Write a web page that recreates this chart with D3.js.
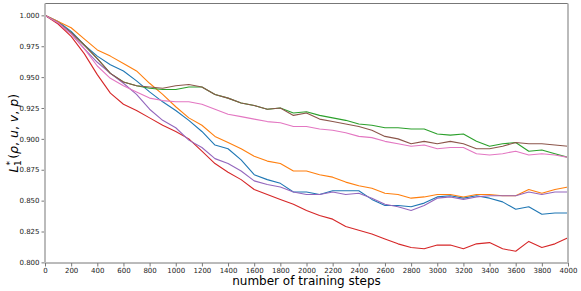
<!DOCTYPE html>
<html>
<head>
<meta charset="utf-8">
<script src="https://cdn.jsdelivr.net/npm/d3@7"></script>
<style>
  body { margin: 0; background: #fff; }
  svg { display: block; font-family: "DejaVu Sans", sans-serif; }
</style>
</head>
<body>
<script>
// training steps, one value every 100 steps
var steps = d3.range(0, 4001, 100);
var xTicks = d3.range(0, 4001, 200);
var yTicks = [0.800, 0.825, 0.850, 0.875, 0.900, 0.925, 0.950, 0.975, 1.000];

var blue = [1.000, 0.995, 0.987, 0.976, 0.967, 0.960, 0.955, 0.947, 0.938, 0.930, 0.923, 0.915, 0.906, 0.895, 0.892, 0.883, 0.871, 0.867, 0.864, 0.857, 0.857, 0.855, 0.858, 0.858, 0.858, 0.851, 0.846, 0.846, 0.845, 0.848, 0.853, 0.854, 0.852, 0.854, 0.852, 0.849, 0.843, 0.845, 0.839, 0.840, 0.840];
var orange = [1.000, 0.995, 0.990, 0.981, 0.972, 0.967, 0.961, 0.955, 0.945, 0.936, 0.926, 0.917, 0.911, 0.902, 0.897, 0.892, 0.886, 0.882, 0.880, 0.874, 0.874, 0.871, 0.869, 0.865, 0.862, 0.860, 0.856, 0.855, 0.852, 0.853, 0.855, 0.855, 0.853, 0.855, 0.855, 0.854, 0.854, 0.859, 0.856, 0.859, 0.861];
var green = [1.000, 0.994, 0.986, 0.976, 0.965, 0.953, 0.946, 0.943, 0.941, 0.940, 0.940, 0.942, 0.942, 0.936, 0.933, 0.929, 0.927, 0.924, 0.925, 0.921, 0.922, 0.919, 0.917, 0.915, 0.912, 0.911, 0.909, 0.909, 0.908, 0.908, 0.904, 0.903, 0.904, 0.898, 0.894, 0.896, 0.897, 0.890, 0.891, 0.888, 0.885];
var red = [1.000, 0.993, 0.983, 0.969, 0.952, 0.937, 0.928, 0.923, 0.917, 0.911, 0.906, 0.900, 0.890, 0.880, 0.873, 0.867, 0.859, 0.855, 0.851, 0.847, 0.842, 0.838, 0.835, 0.829, 0.826, 0.823, 0.819, 0.815, 0.812, 0.811, 0.814, 0.814, 0.811, 0.815, 0.816, 0.811, 0.809, 0.817, 0.812, 0.815, 0.820];
var purple = [1.000, 0.994, 0.985, 0.973, 0.962, 0.953, 0.945, 0.936, 0.924, 0.915, 0.909, 0.899, 0.893, 0.884, 0.880, 0.874, 0.866, 0.863, 0.861, 0.857, 0.855, 0.855, 0.857, 0.855, 0.856, 0.852, 0.847, 0.845, 0.842, 0.846, 0.852, 0.853, 0.851, 0.853, 0.854, 0.854, 0.854, 0.857, 0.855, 0.857, 0.857];
var brown = [1.000, 0.994, 0.986, 0.976, 0.965, 0.953, 0.946, 0.943, 0.942, 0.941, 0.943, 0.944, 0.942, 0.936, 0.933, 0.929, 0.927, 0.924, 0.925, 0.919, 0.921, 0.916, 0.914, 0.912, 0.910, 0.907, 0.902, 0.900, 0.896, 0.898, 0.896, 0.898, 0.896, 0.892, 0.892, 0.894, 0.897, 0.896, 0.896, 0.895, 0.894];
var pink = [1.000, 0.994, 0.985, 0.973, 0.959, 0.949, 0.943, 0.938, 0.933, 0.931, 0.930, 0.930, 0.928, 0.924, 0.920, 0.918, 0.916, 0.914, 0.913, 0.910, 0.910, 0.908, 0.907, 0.905, 0.902, 0.901, 0.898, 0.896, 0.894, 0.895, 0.892, 0.893, 0.893, 0.888, 0.887, 0.888, 0.890, 0.887, 0.888, 0.887, 0.885];

var series = [
  { values: blue, color: "#1f77b4" },
  { values: orange, color: "#ff7f0e" },
  { values: green, color: "#2ca02c" },
  { values: red, color: "#d62728" },
  { values: purple, color: "#9467bd" },
  { values: brown, color: "#8c564b" },
  { values: pink, color: "#e377c2" }
];

var svgWidth = 581;
var svgHeight = 291;
var margin = { top: 3.5, right: 13, bottom: 28, left: 45 };
var width = svgWidth - margin.left - margin.right;
var height = svgHeight - margin.top - margin.bottom;

var svg = d3.select("body").append("svg")
  .attr("width", svgWidth)
  .attr("height", svgHeight);

var chart = svg.append("g")
  .attr("transform", `translate(${margin.left}, ${margin.top})`);

var x = d3.scaleLinear().domain([0, 4000]).range([0, width]);
var y = d3.scaleLinear().domain([0.7995, 1.0096]).range([height, 0]);

// lines
var line = d3.line()
  .x((d, i) => x(steps[i]))
  .y(d => y(d));

chart.selectAll(".series")
  .data(series)
  .enter()
  .append("path")
  .attr("class", "series")
  .attr("d", d => line(d.values))
  .attr("fill", "none")
  .attr("stroke", d => d.color)
  .attr("stroke-width", 1.1)
  .attr("stroke-linejoin", "round");

// axes
var xAxis = chart.append("g")
  .attr("transform", `translate(0, ${height})`)
  .call(d3.axisBottom(x).tickValues(xTicks).tickFormat(d3.format("d")).tickSize(3.5).tickPadding(2).tickSizeOuter(0));

var yAxis = chart.append("g")
  .call(d3.axisLeft(y).tickValues(yTicks).tickFormat(d3.format(".3f")).tickSize(3.5).tickPadding(2).tickSizeOuter(0));

[xAxis, yAxis].forEach(function(a) {
  a.select(".domain").remove();
  a.selectAll(".tick line").attr("stroke", "#555").attr("stroke-width", 0.8);
  a.selectAll(".tick text").attr("fill", "#222").style("font-size", "7px").style("font-family", "DejaVu Sans");
});

// spines
chart.append("line").attr("x1", 0).attr("x2", width).attr("y1", 0).attr("y2", 0)
  .attr("stroke", "#777").attr("stroke-width", 1);
chart.append("line").attr("x1", 0).attr("x2", width).attr("y1", height).attr("y2", height)
  .attr("stroke", "#777").attr("stroke-width", 1);
chart.append("line").attr("x1", 0).attr("x2", 0).attr("y1", 0).attr("y2", height)
  .attr("stroke", "#bbb").attr("stroke-width", 2);
chart.append("line").attr("x1", width).attr("x2", width).attr("y1", 0).attr("y2", height)
  .attr("stroke", "#bbb").attr("stroke-width", 2);

// axis titles
svg.append("text")
  .attr("x", margin.left + width / 2)
  .attr("y", 285)
  .attr("text-anchor", "middle")
  .style("font-size", "12px")
  .attr("fill", "#000")
  .text("number of training steps");

var yLabel = svg.append("text")
  .attr("transform", `translate(18, ${margin.top + height / 2}) rotate(-90)`)
  .attr("text-anchor", "middle")
  .style("font-size", "12.5px")
  .attr("fill", "#000");
yLabel.append("tspan").style("font-style", "italic").text("L");
yLabel.append("tspan").attr("dy", -5).style("font-size", "9px").text("*");
yLabel.append("tspan").attr("dx", -5).attr("dy", 8).style("font-size", "9px").text("1");
yLabel.append("tspan").attr("dy", -3).attr("dx", 1.5).text("(");
yLabel.append("tspan").style("font-style", "italic").text("ρ");
yLabel.append("tspan").text(", ");
yLabel.append("tspan").style("font-style", "italic").text("u");
yLabel.append("tspan").text(", ");
yLabel.append("tspan").style("font-style", "italic").text("v");
yLabel.append("tspan").text(", ");
yLabel.append("tspan").style("font-style", "italic").text("p");
yLabel.append("tspan").text(")");
</script>
</body>
</html>
